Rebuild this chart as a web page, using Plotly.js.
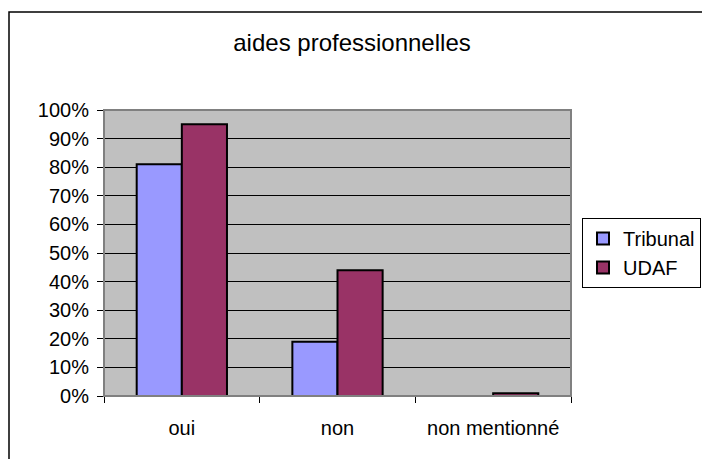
<!DOCTYPE html>
<html>
<head>
<meta charset="utf-8">
<script src="https://cdn.plot.ly/plotly-3.0.1.min.js"></script>
<style>
html,body{margin:0;padding:0;background:#fff;}
#chart{width:702px;height:459px;}
</style>
</head>
<body>
<div id="chart"></div>
<script>
var categories = ["oui", "non", "non mentionné"];
var seriesNames = ["Tribunal", "UDAF"];
var tribunalValues = [81, 19, 0];
var udafValues = [95, 44, 1];
var yTickValues = [0, 10, 20, 30, 40, 50, 60, 70, 80, 90, 100];
var yTickLabels = ["0%", "10%", "20%", "30%", "40%", "50%", "60%", "70%", "80%", "90%", "100%"];
var titleText = "aides professionnelles";

var FONT = "Liberation Sans, Arial, sans-serif";

var traces = [
  {type: "bar", name: seriesNames[0], x: categories, y: tribunalValues,
   marker: {color: "#9999FF", line: {color: "#000000", width: 2}}},
  {type: "bar", name: seriesNames[1], x: categories, y: udafValues,
   marker: {color: "#993366", line: {color: "#000000", width: 2}}}
];

var L = 104, R = 131, T = 110, B = 63;
var W = 702 - L - R, H = 459 - T - B;
function px(x){ return (x - L) / W; }
function py(y){ return (459 - B - y) / H; }

var layout = {
  width: 702, height: 459,
  margin: {l: L, r: R, t: T, b: B, pad: 0, autoexpand: false},
  paper_bgcolor: "#ffffff",
  plot_bgcolor: "#C0C0C0",
  font: {family: FONT, size: 20, color: "#000000"},
  title: {text: titleText, font: {family: FONT, size: 24, color: "#000"},
          xref: "container", x: 352/702, xanchor: "center",
          yref: "container", y: 1 - 43/459, yanchor: "middle"},
  barmode: "group",
  bargap: 0.42,
  bargroupgap: 0,
  showlegend: true,
  legend: {x: px(701), xanchor: "right", y: py(253), yanchor: "middle",
           bgcolor: "#ffffff", bordercolor: "#000000", borderwidth: 1,
           font: {family: FONT, size: 20, color: "#000"}, traceorder: "normal"},
  xaxis: {type: "category", tickson: "boundaries", ticks: "outside", ticklen: 6,
          tickcolor: "#000", showgrid: false, showline: true, linecolor: "#000",
          linewidth: 1, ticklabelstandoff: 14, zeroline: false, fixedrange: true},
  yaxis: {range: [0, 100], tickmode: "array", tickvals: yTickValues, ticktext: yTickLabels,
          ticks: "outside", ticklen: 6, tickcolor: "#000", showgrid: true, gridcolor: "#000000",
          gridwidth: 1, showline: true, linecolor: "#000", linewidth: 1,
          zeroline: false, ticklabelstandoff: 4, fixedrange: true},
  shapes: [
    {type: "rect", xref: "paper", yref: "paper", x0: 0, x1: 1, y0: 0, y1: 1,
     line: {color: "#808080", width: 2}, fillcolor: "rgba(0,0,0,0)", layer: "above"},
    {type: "rect", xref: "paper", yref: "paper", x0: px(9), x1: px(720), y0: py(480), y1: py(12),
     line: {color: "#000000", width: 1.5}, fillcolor: "rgba(0,0,0,0)", layer: "below"}
  ]
};

Plotly.newPlot("chart", traces, layout, {displayModeBar: false, staticPlot: true});
</script>
</body>
</html>
